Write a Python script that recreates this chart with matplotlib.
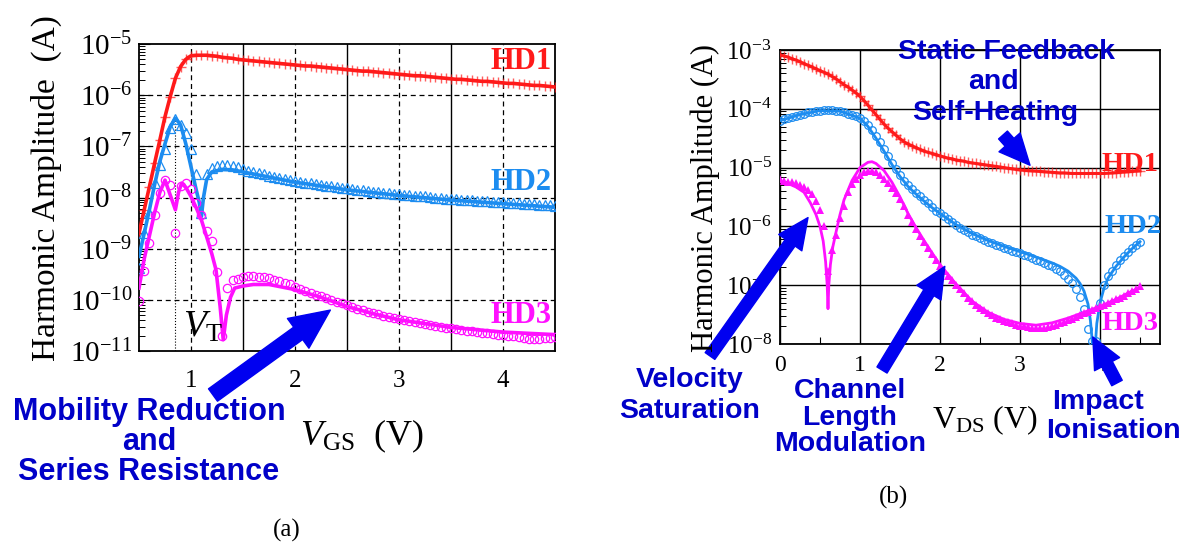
import numpy as np
import matplotlib
matplotlib.use("Agg")
import matplotlib.pyplot as plt
from matplotlib.ticker import LogLocator, NullFormatter, FixedLocator

plt.rcParams['font.family'] = ['Liberation Serif', 'DejaVu Serif']
plt.rcParams['mathtext.fontset'] = 'custom'
plt.rcParams['mathtext.rm'] = 'Liberation Serif'
plt.rcParams['mathtext.it'] = 'Liberation Serif:italic'
plt.rcParams['mathtext.bf'] = 'Liberation Serif:bold'

# ---- data: log10 of harmonic amplitude (A) ----
# (a) VGS sweep, measured points every 50 mV
vgs_meas = np.round(np.arange(0.50, 4.501, 0.05), 2)
hd1_a_meas = [-8.70, -8.24, -7.79, -7.33, -6.88, -6.42, -6.03, -5.67, -5.44, -5.30,
              -5.23, -5.22, -5.22, -5.22, -5.23, -5.24, -5.26, -5.27, -5.28, -5.30,
              -5.31, -5.32, -5.33, -5.34, -5.35, -5.36, -5.37, -5.38, -5.39, -5.40,
              -5.41, -5.42, -5.43, -5.43, -5.44, -5.45, -5.46, -5.47, -5.48, -5.49,
              -5.50, -5.51, -5.52, -5.53, -5.53, -5.54, -5.55, -5.56, -5.57, -5.58,
              -5.59, -5.60, -5.61, -5.62, -5.62, -5.63, -5.64, -5.65, -5.66, -5.67,
              -5.68, -5.69, -5.69, -5.70, -5.71, -5.72, -5.73, -5.73, -5.74, -5.75,
              -5.76, -5.77, -5.77, -5.78, -5.79, -5.80, -5.81, -5.81, -5.82, -5.83,
              -5.84]
hd2_a_meas = [-9.37, -8.70, -8.30, -7.72, -7.36, -7.05, -6.65, -6.46, -6.58, -6.73,
              -7.05, -7.55, -8.30, -7.55, -7.42, -7.38, -7.37, -7.37, -7.38, -7.41,
              -7.45, -7.48, -7.51, -7.53, -7.55, -7.58, -7.60, -7.62, -7.64, -7.66,
              -7.68, -7.69, -7.71, -7.72, -7.74, -7.75, -7.77, -7.78, -7.80, -7.81,
              -7.82, -7.84, -7.85, -7.86, -7.87, -7.89, -7.90, -7.91, -7.92, -7.93,
              -7.94, -7.95, -7.96, -7.97, -7.97, -7.98, -7.99, -8.00, -8.01, -8.02,
              -8.02, -8.03, -8.04, -8.04, -8.05, -8.06, -8.07, -8.07, -8.08, -8.09,
              -8.09, -8.10, -8.11, -8.11, -8.12, -8.12, -8.13, -8.14, -8.15, -8.15,
              -8.16]
hd3_a_meas = [-10.03, -9.44, -8.89, -8.35, -7.92, -7.66, -7.75, -8.70, -7.77, -7.72,
              -7.83, -8.10, -8.35, -8.66, -8.85, -9.45, -10.70, -9.77, -9.62, -9.59,
              -9.55, -9.54, -9.54, -9.55, -9.56, -9.58, -9.61, -9.64, -9.67, -9.70,
              -9.74, -9.78, -9.82, -9.86, -9.90, -9.93, -9.97, -10.01, -10.04, -10.07,
              -10.11, -10.14, -10.17, -10.20, -10.23, -10.25, -10.28, -10.31, -10.33, -10.35,
              -10.37, -10.40, -10.42, -10.44, -10.45, -10.48, -10.49, -10.51, -10.53, -10.55,
              -10.56, -10.57, -10.59, -10.60, -10.61, -10.62, -10.64, -10.65, -10.66, -10.68,
              -10.69, -10.70, -10.71, -10.72, -10.74, -10.76, -10.77, -10.76, -10.75, -10.74,
              -10.72]
# (a) simulated curves
hd2_a_xsim = [0.5, 0.55, 0.6, 0.65, 0.7, 0.75, 0.8, 0.85, 0.9, 0.95, 1.0, 1.05, 1.08, 1.1,
              1.12, 1.15, 1.2, 1.3, 1.4, 1.5, 1.75, 2.0, 2.5, 3.0, 3.5, 4.0, 4.5]
hd2_a_sim = [-9.15, -8.70, -8.24, -7.75, -7.30, -6.95, -6.62, -6.45, -6.58, -6.95, -7.40,
             -7.85, -8.10, -8.37, -8.00, -7.65, -7.50, -7.45, -7.46, -7.50, -7.60, -7.70,
             -7.85, -7.96, -8.05, -8.12, -8.19]
hd3_a_xsim = [0.5, 0.55, 0.6, 0.65, 0.7, 0.75, 0.8, 0.85, 0.88, 0.91, 0.95, 1.0, 1.05, 1.1,
              1.16, 1.2, 1.24, 1.28, 1.31, 1.34, 1.38, 1.42, 1.5, 1.6, 1.75, 2.0, 2.25,
              2.5, 2.75, 3.0, 3.5, 4.0, 4.5]
hd3_a_sim = [-9.77, -9.20, -8.75, -8.30, -7.90, -7.66, -7.95, -8.24, -7.90, -7.72, -7.80,
             -7.98, -8.20, -8.44, -8.83, -9.10, -9.41, -10.13, -10.78, -10.30, -9.95,
             -9.77, -9.73, -9.70, -9.70, -9.80, -9.95, -10.13, -10.27, -10.39, -10.54,
             -10.63, -10.68]
vt = 0.85

# (b) VDS sweep
vds_meas = np.round(np.arange(0.0, 4.501, 0.05), 2)
hd1_b_meas = [-3.08, -3.10, -3.12, -3.15, -3.17, -3.20, -3.23, -3.26, -3.29, -3.32,
              -3.35, -3.38, -3.41, -3.45, -3.49, -3.54, -3.59, -3.63, -3.68, -3.73,
              -3.79, -3.86, -3.94, -4.02, -4.10, -4.18, -4.26, -4.33, -4.39, -4.45,
              -4.51, -4.56, -4.60, -4.63, -4.66, -4.69, -4.72, -4.74, -4.76, -4.78,
              -4.80, -4.82, -4.84, -4.85, -4.87, -4.88, -4.89, -4.91, -4.92, -4.93,
              -4.94, -4.95, -4.96, -4.97, -4.98, -4.99, -5.00, -5.01, -5.02, -5.03,
              -5.04, -5.045, -5.05, -5.055, -5.06, -5.065, -5.07, -5.075, -5.08, -5.085,
              -5.09, -5.09, -5.095, -5.10, -5.10, -5.10, -5.10, -5.10, -5.10, -5.10,
              -5.10, -5.10, -5.095, -5.09, -5.085, -5.08, -5.075, -5.07, -5.065, -5.06,
              -5.055]
hd2_b_meas = [-4.20, -4.18, -4.16, -4.14, -4.12, -4.10, -4.08, -4.06, -4.05, -4.04,
              -4.03, -4.02, -4.02, -4.02, -4.03, -4.04, -4.06, -4.08, -4.10, -4.13,
              -4.16, -4.21, -4.28, -4.36, -4.46, -4.57, -4.68, -4.80, -4.92, -5.03,
              -5.13, -5.22, -5.30, -5.37, -5.43, -5.49, -5.55, -5.61, -5.67, -5.73,
              -5.78, -5.83, -5.88, -5.93, -5.98, -6.02, -6.06, -6.10, -6.14, -6.17,
              -6.20, -6.23, -6.26, -6.29, -6.31, -6.34, -6.36, -6.39, -6.41, -6.44,
              -6.46, -6.49, -6.51, -6.54, -6.57, -6.59, -6.62, -6.65, -6.68, -6.72,
              -6.76, -6.82, -6.89, -6.97, -7.07, -7.20, -7.40, -7.75, -7.95, -7.95,
              -7.30, -7.00, -6.85, -6.75, -6.65, -6.57, -6.50, -6.43, -6.37, -6.32,
              -6.27]
hd3_b_meas = [-5.20, -5.22, -5.24, -5.25, -5.27, -5.30, -5.33, -5.38, -5.45, -5.56,
              -5.72, -6.00, -6.75, -6.40, -6.15, -5.85, -5.65, -5.42, -5.28, -5.20,
              -5.12, -5.08, -5.05, -5.05, -5.08, -5.13, -5.19, -5.27, -5.35, -5.44,
              -5.53, -5.66, -5.80, -5.93, -6.05, -6.16, -6.27, -6.37, -6.47, -6.57,
              -6.67, -6.76, -6.84, -6.92, -7.00, -7.07, -7.14, -7.21, -7.27, -7.33,
              -7.38, -7.43, -7.47, -7.51, -7.55, -7.58, -7.61, -7.63, -7.65, -7.67,
              -7.69, -7.70, -7.71, -7.72, -7.73, -7.73, -7.72, -7.71, -7.69, -7.67,
              -7.65, -7.62, -7.60, -7.57, -7.54, -7.51, -7.48, -7.45, -7.42, -7.39,
              -7.36, -7.33, -7.30, -7.27, -7.24, -7.21, -7.18, -7.14, -7.10, -7.06,
              -7.02]
hd2_b_xsim = [0, 0.25, 0.5, 0.75, 1.0, 1.1, 1.2, 1.3, 1.4, 1.5, 1.6, 1.7, 1.8, 1.9, 2.0,
              2.2, 2.4, 2.6, 2.8, 3.0, 3.2, 3.4, 3.5, 3.6, 3.7, 3.75, 3.8, 3.85, 3.88, 3.9,
              3.92, 3.94, 3.96, 4.0, 4.05, 4.1, 4.2, 4.3, 4.4, 4.5]
hd2_b_sim = [-4.20, -4.10, -4.03, -4.04, -4.16, -4.30, -4.50, -4.72, -4.95, -5.15, -5.32,
             -5.45, -5.57, -5.68, -5.78, -5.97, -6.12, -6.24, -6.34, -6.43, -6.52, -6.62,
             -6.68, -6.76, -6.88, -6.97, -7.10, -7.32, -7.60, -7.90, -8.30, -8.05, -7.65,
             -7.30, -7.05, -6.88, -6.68, -6.52, -6.38, -6.26]
hd3_b_xsim = [0, 0.1, 0.2, 0.3, 0.38, 0.45, 0.5, 0.54, 0.57, 0.59, 0.6, 0.61, 0.63, 0.66,
              0.7, 0.75, 0.8, 0.9, 1.0, 1.1, 1.15, 1.2, 1.3, 1.4, 1.5, 1.6, 1.7, 1.8, 1.9,
              2.0, 2.2, 2.4, 2.6, 2.8, 3.0, 3.2, 3.4, 3.6, 3.8, 4.0, 4.2, 4.4, 4.5]
hd3_b_sim = [-5.24, -5.27, -5.33, -5.42, -5.60, -5.80, -6.00, -6.25, -6.60, -7.00, -7.40,
             -7.00, -6.65, -6.35, -6.10, -5.80, -5.55, -5.22, -5.00, -4.91, -4.90, -4.93,
             -5.05, -5.25, -5.50, -5.78, -6.02, -6.24, -6.45, -6.65, -6.98, -7.27, -7.46,
             -7.58, -7.65, -7.68, -7.64, -7.56, -7.46, -7.36, -7.24, -7.10, -7.04]

RED = '#ff1a1a'
BLUE = '#1c8cf0'
MAG = '#ff10ff'
ARROW = '#0000f0'
NOTE = '#0000c8'

W, H = 1188, 550
fig = plt.figure(figsize=(W / 100, H / 100), dpi=100)


def px_axes(l, t, r, b):
	return fig.add_axes([l / W, 1 - b / H, (r - l) / W, (b - t) / H])


def fx(x):
	return x / W


def fy(y):
	return 1 - y / H


def amp(logs):
	return 10.0 ** np.asarray(logs)


def decade_labels(lo, hi):
	return [r'$10^{\mathrm{%d}}$' % e for e in range(lo, hi + 1)]


def note(lines, xs, ys, size):
	# one text per line, so each box is only as wide as its own line
	for s, x, y in zip(lines, xs, ys):
		fig.text(fx(x), fy(y), s, ha='center', va='center', fontweight='bold',
			color=NOTE, family=['Liberation Sans', 'DejaVu Sans'], fontsize=size)


def arrow(ax, head, tail_px, scale):
	ax.annotate('', xy=head, xycoords='data',
		xytext=(fx(tail_px[0]), fy(tail_px[1])), textcoords='figure fraction',
		annotation_clip=False,
		arrowprops=dict(arrowstyle='simple,head_length=1.3,head_width=1.2,tail_width=0.5',
			color=ARROW, mutation_scale=scale, shrinkA=0, shrinkB=0))


# ================= (a) =================
ax = px_axes(139, 44, 555, 351)
ax.set_yscale('log')
ax.set_xlim(0.5, 4.5)
ax.set_ylim(1e-11, 1e-5)

for e in range(-10, -5):
	ax.axhline(10.0 ** e, color='k', lw=0.9, ls=(0, (4, 3)), zorder=1)
for v in [1, 2, 3, 4]:
	ax.axvline(v, color='k', lw=0.9, ls=(0, (4, 3)), zorder=1)
for v in [1.5, 2.5, 3.5]:
	ax.axvline(v, color='k', lw=1.0, zorder=1)
ax.plot([vt, vt], [1e-11, amp(max(hd2_a_sim))], color='k', lw=0.8, ls=':', zorder=1)

ax.plot(vgs_meas, amp(hd1_a_meas), color=RED, lw=2.6, zorder=3)
ax.plot(vgs_meas, amp(hd1_a_meas), ls='none', marker='+', ms=7, mew=1.0,
	color=RED, alpha=0.7, zorder=3)
ax.plot(hd2_a_xsim, amp(hd2_a_sim), color=BLUE, lw=2.6, zorder=3)
ax.plot(vgs_meas, amp(hd2_a_meas), ls='none', marker='^', ms=6.5, mew=0.9,
	mfc='none', mec=BLUE, zorder=3)
ax.plot(hd3_a_xsim, amp(hd3_a_sim), color=MAG, lw=2.6, zorder=3)
ax.plot(vgs_meas, amp(hd3_a_meas), ls='none', marker='o', ms=6, mew=0.9,
	mfc='none', mec=MAG, zorder=3)

ax.yaxis.set_major_locator(FixedLocator([10.0 ** e for e in range(-11, -4)]))
ax.set_yticklabels(decade_labels(-11, -5))
ax.yaxis.set_minor_locator(LogLocator(base=10, subs=np.arange(2, 10), numticks=20))
ax.yaxis.set_minor_formatter(NullFormatter())
ax.set_xticks([1, 2, 3, 4])
ax.tick_params(axis='y', which='major', direction='in', length=8, labelsize=21, pad=5)
ax.tick_params(axis='y', which='minor', direction='in', length=4, width=0.7)
ax.tick_params(axis='x', which='major', length=0, labelsize=18, pad=14)
for s in ax.spines.values():
	s.set_linewidth(1.3)

ax.text(4.47, 10 ** -5.35, 'HD1', color=RED, fontsize=22, fontweight='bold',
	ha='right', va='center')
ax.text(4.47, 10 ** -7.7, 'HD2', color=BLUE, fontsize=22, fontweight='bold',
	ha='right', va='center')
ax.text(4.47, 10 ** -10.3, 'HD3', color=MAG, fontsize=22, fontweight='bold',
	ha='right', va='center')
ax.text(0.92, 10 ** -10.72, r'$V_{\mathrm{T}}$', fontsize=27, ha='left', va='baseline')

arrow(ax, (2.34, 10 ** -10.2), (213, 395), 22)

fig.text(fx(46), fy(188), 'Harmonic Amplitude  (A)', rotation=90, fontsize=24,
	ha='center', va='center')
note(['Mobility Reduction', 'and', 'Series Resistance'], [149, 149, 149],
	[412, 442, 472], 22)
fig.text(fx(300), fy(445), r'$V_{\mathrm{GS}}$  (V)', fontsize=26, ha='left',
	va='baseline')
fig.text(fx(287), fy(530), '(a)', fontsize=18, ha='center', va='center')

# ================= (b) =================
bx = px_axes(780, 50, 1160, 344)
bx.set_yscale('log')
bx.set_xlim(0, 4.75)
bx.set_ylim(1e-8, 1e-3)
bx.grid(True, which='major', color='k', lw=1.0, ls='-', zorder=1)

bx.plot(vds_meas, amp(hd1_b_meas), color=RED, lw=2.2, zorder=3)
bx.plot(vds_meas, amp(hd1_b_meas), ls='none', marker='+', ms=7, mew=1.0,
	color=RED, alpha=0.7, zorder=3)
bx.plot(hd2_b_xsim, amp(hd2_b_sim), color=BLUE, lw=2.0, zorder=3)
bx.plot(vds_meas, amp(hd2_b_meas), ls='none', marker='o', ms=5.5, mew=0.9,
	mfc='none', mec=BLUE, zorder=3)
bx.plot(hd3_b_xsim, amp(hd3_b_sim), color=MAG, lw=2.0, zorder=3)
bx.plot(vds_meas, amp(hd3_b_meas), ls='none', marker='^', ms=5.5, mew=0,
	color=MAG, zorder=3)

bx.yaxis.set_major_locator(FixedLocator([10.0 ** e for e in range(-8, -2)]))
bx.set_yticklabels(decade_labels(-8, -3))
bx.yaxis.set_minor_locator(LogLocator(base=10, subs=np.arange(2, 10), numticks=20))
bx.yaxis.set_minor_formatter(NullFormatter())
bx.set_xticks([0, 1, 2, 3, 4])
bx.xaxis.set_minor_locator(FixedLocator([0.5, 1.5, 2.5, 3.5, 4.5]))
bx.tick_params(axis='y', which='major', direction='in', length=0, labelsize=18, pad=6)
bx.tick_params(axis='y', which='minor', direction='in', length=4, width=0.7)
bx.tick_params(axis='x', which='major', length=0, labelsize=17, pad=8)
bx.tick_params(axis='x', which='minor', direction='in', length=5, width=0.8)
for s in bx.spines.values():
	s.set_linewidth(1.3)

bx.text(4.73, 10 ** -4.95, 'HD1', color=RED, fontsize=20.5, fontweight='bold',
	ha='right', va='center')
bx.text(4.77, 10 ** -6.0, 'HD2', color=BLUE, fontsize=20.5, fontweight='bold',
	ha='right', va='center')
bx.text(4.73, 10 ** -7.65, 'HD3', color=MAG, fontsize=20.5, fontweight='bold',
	ha='right', va='center')

arrow(bx, (3.125, 10 ** -4.96), (1003, 135), 17)
arrow(bx, (0.35, 10 ** -5.85), (710, 356), 17)
arrow(bx, (2.06, 10 ** -6.68), (882, 370), 17)
arrow(bx, (3.91, 10 ** -7.88), (1117, 383), 17)

fig.text(fx(705), fy(198), 'Harmonic Amplitude (A)', rotation=90, fontsize=22,
	ha='center', va='center')
note(['Static Feedback', 'and', 'Self-Heating'], [1007, 993, 995], [52, 82, 113], 20.5)
note(['Velocity', 'Saturation'], [690, 690], [380, 411], 20.5)
note(['Channel', 'Length', 'Modulation'], [850, 850, 850], [391, 418, 444], 20.5)
note(['Impact', 'Ionisation'], [1098, 1113], [402, 431], 20.5)
fig.text(fx(932), fy(428), r'$\mathrm{V}_{\mathrm{DS}}$ (V)', fontsize=23, ha='left',
	va='baseline')
fig.text(fx(893), fy(497), '(b)', fontsize=18, ha='center', va='center')

fig.savefig('out.png', dpi=100)
